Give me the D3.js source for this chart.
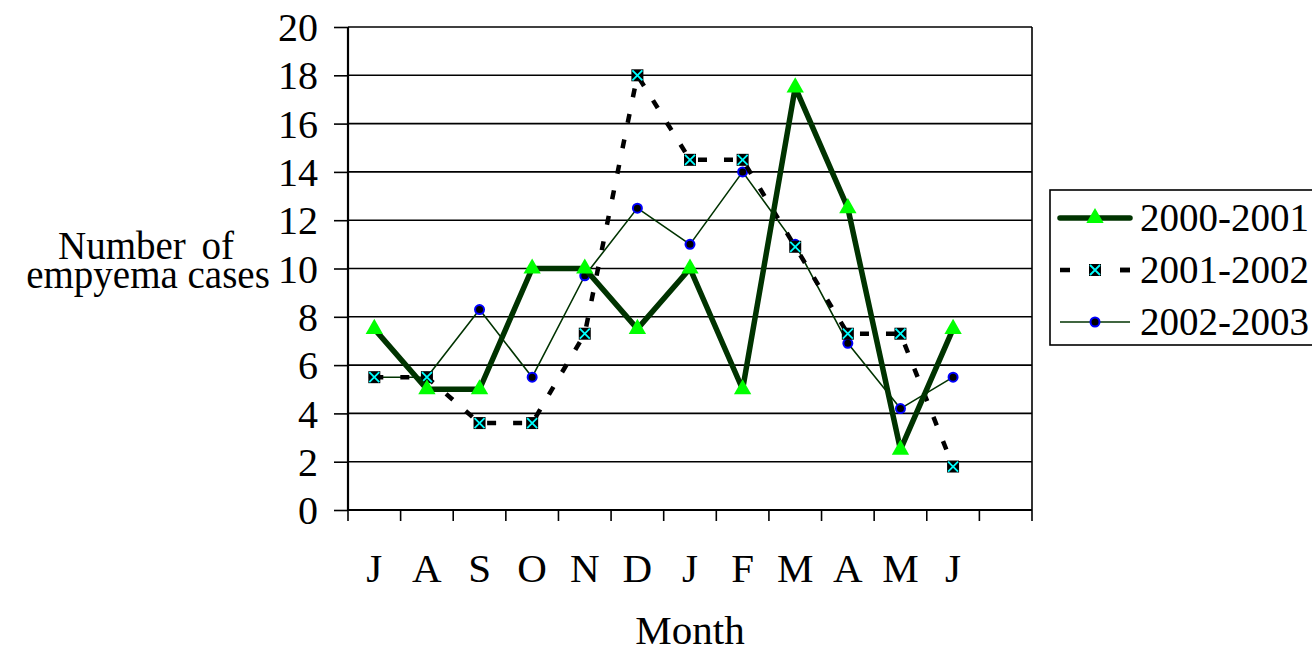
<!DOCTYPE html>
<html>
<head>
<meta charset="utf-8">
<script src="https://cdn.jsdelivr.net/npm/d3@7"></script>
<style>
  body { margin: 0; background: #fff; }
  svg text { font-family: "Times New Roman", "Liberation Serif", Tinos, serif; fill: #000; }
</style>
</head>
<body>
<svg width="1312" height="646"></svg>
<script>
const months = ["J", "A", "S", "O", "N", "D", "J", "F", "M", "A", "M", "J", ""];
const yTicks = [0, 2, 4, 6, 8, 10, 12, 14, 16, 18, 20];
const seriesNames = ["2000-2001", "2001-2002", "2002-2003"];
const cases2000 = [7.5, 5, 5, 10, 10, 7.5, 10, 5, 17.5, 12.5, 2.5, 7.5];
const cases2001 = [5.5, 5.5, 3.6, 3.6, 7.3, 18, 14.5, 14.5, 10.9, 7.3, 7.3, 1.8];
const cases2002 = [5.5, 5.5, 8.3, 5.5, 9.7, 12.5, 11, 14, 11, 6.9, 4.2, 5.5];

const width = 1312;
const height = 646;
const margin = { top: 27, right: 280, bottom: 136, left: 348 };
const innerWidth = width - margin.left - margin.right;
const innerHeight = height - margin.top - margin.bottom;

const svg = d3.select("svg");

const xScale = d3
  .scaleBand()
  .domain(d3.range(months.length))
  .range([0, innerWidth])
  .padding(0);
const yScale = d3.scaleLinear().domain([0, 20]).range([innerHeight, 0]);
const xPos = (i) => xScale(i) + xScale.bandwidth() / 2;

const chart = svg
  .append("g")
  .attr("transform", `translate(${margin.left}, ${margin.top})`);

// gridlines
chart
  .selectAll(".grid")
  .data(yTicks)
  .enter()
  .append("line")
  .attr("x1", 0)
  .attr("x2", innerWidth)
  .attr("y1", (d) => yScale(d))
  .attr("y2", (d) => yScale(d))
  .attr("stroke", "#000")
  .attr("stroke-width", 1.6);

// right border
chart
  .append("line")
  .attr("x1", innerWidth)
  .attr("x2", innerWidth)
  .attr("y1", 0)
  .attr("y2", innerHeight)
  .attr("stroke", "#000")
  .attr("stroke-width", 1.6);

// y axis
const yAxis = chart
  .append("g")
  .call(d3.axisLeft(yScale).tickValues(yTicks).tickSize(14).tickPadding(16))
  .attr("font-family", null)
  .attr("font-size", 40);
yAxis.select(".domain").attr("stroke-width", 2.2).attr("d", `M0,0V${innerHeight}`);
yAxis.selectAll(".tick line").attr("stroke-width", 1.6);
yAxis.selectAll("text").attr("dy", "0.34em");

// x axis: ticks at band edges, labels at band centres
const xAxis = chart.append("g").attr("transform", `translate(0, ${innerHeight})`);
xAxis
  .append("line")
  .attr("x1", 0)
  .attr("x2", innerWidth)
  .attr("stroke", "#000")
  .attr("stroke-width", 2.2);
xAxis
  .selectAll(".xt")
  .data(d3.range(months.length + 1))
  .enter()
  .append("line")
  .attr("x1", (i) => (i < months.length ? xScale(i) : innerWidth))
  .attr("x2", (i) => (i < months.length ? xScale(i) : innerWidth))
  .attr("y1", 0)
  .attr("y2", 11)
  .attr("stroke", "#000")
  .attr("stroke-width", 1.6);
xAxis
  .selectAll(".xl")
  .data(months)
  .enter()
  .append("text")
  .attr("x", (d, i) => xPos(i))
  .attr("y", 72)
  .attr("text-anchor", "middle")
  .attr("font-size", 41)
  .text((d) => d);

// axis titles
svg
  .append("text")
  .attr("x", 690)
  .attr("y", 644)
  .attr("text-anchor", "middle")
  .attr("font-size", 41)
  .text("Month");
const yTitle = svg.append("text").attr("text-anchor", "middle").attr("font-size", 39);
yTitle.append("tspan").attr("x", 146).attr("y", 259).attr("word-spacing", 6).text("Number of");
yTitle.append("tspan").attr("x", 148).attr("y", 288).text("empyema cases");

// series
const line = d3
  .line()
  .x((d, i) => xPos(i))
  .y((d) => yScale(d));

const styles = [
  { values: cases2000, stroke: "#003300", width: 5.5, dash: null, marker: "triangle" },
  { values: cases2001, stroke: "#000", width: 4.5, dash: "9,17", marker: "xsquare" },
  { values: cases2002, stroke: "#003300", width: 1.6, dash: null, marker: "circle" },
];

function drawMarker(g, type, x, y) {
  if (type === "triangle") {
    g.append("path")
      .attr("d", d3.symbol(d3.symbolTriangle, 130)())
      .attr("transform", `translate(${x}, ${y})`)
      .attr("fill", "#00ff00");
  } else if (type === "xsquare") {
    g.append("rect")
      .attr("x", x - 6)
      .attr("y", y - 6)
      .attr("width", 12)
      .attr("height", 12)
      .attr("fill", "#000");
    g.append("path")
      .attr("d", `M${x - 5},${y - 5}L${x + 5},${y + 5}M${x - 5},${y + 5}L${x + 5},${y - 5}`)
      .attr("stroke", "#00ffff")
      .attr("stroke-width", 1.8);
  } else {
    g.append("circle")
      .attr("cx", x)
      .attr("cy", y)
      .attr("r", 4.5)
      .attr("fill", "#000")
      .attr("stroke", "#0000ff")
      .attr("stroke-width", 2);
  }
}

// draw in reverse so the heavy green series sits on top
[2, 1, 0].forEach((k) => {
  const s = styles[k];
  const g = chart.append("g");
  g.append("path")
    .datum(s.values)
    .attr("d", line)
    .attr("fill", "none")
    .attr("stroke", s.stroke)
    .attr("stroke-width", s.width)
    .attr("stroke-dasharray", s.dash)
    .attr("stroke-linejoin", "round");
  s.values.forEach((v, i) => drawMarker(g, s.marker, xPos(i), yScale(v)));
});

// legend
const legend = svg.append("g").attr("transform", "translate(1050, 190)");
legend
  .append("rect")
  .attr("width", 300)
  .attr("height", 155)
  .attr("fill", "#fff")
  .attr("stroke", "#000")
  .attr("stroke-width", 1.6);
seriesNames.forEach((name, k) => {
  const s = styles[k];
  const y = 28 + k * 52;
  const row = legend.append("g");
  row.append("line")
    .attr("x1", 10)
    .attr("x2", 80)
    .attr("y1", y)
    .attr("y2", y)
    .attr("stroke", s.stroke)
    .attr("stroke-width", s.width)
    .attr("stroke-dasharray", s.dash ? "10,50" : null)
    .attr("stroke-linecap", k === 0 ? "round" : "butt");
  if (s.dash) {
    row.append("line")
      .attr("x1", 70)
      .attr("x2", 80)
      .attr("y1", y)
      .attr("y2", y)
      .attr("stroke", s.stroke)
      .attr("stroke-width", s.width);
  }
  drawMarker(row, s.marker, 45, y);
  row.append("text")
    .attr("x", 90)
    .attr("y", y + 13)
    .attr("font-size", 39)
    .text(name);
});
</script>
</body>
</html>
